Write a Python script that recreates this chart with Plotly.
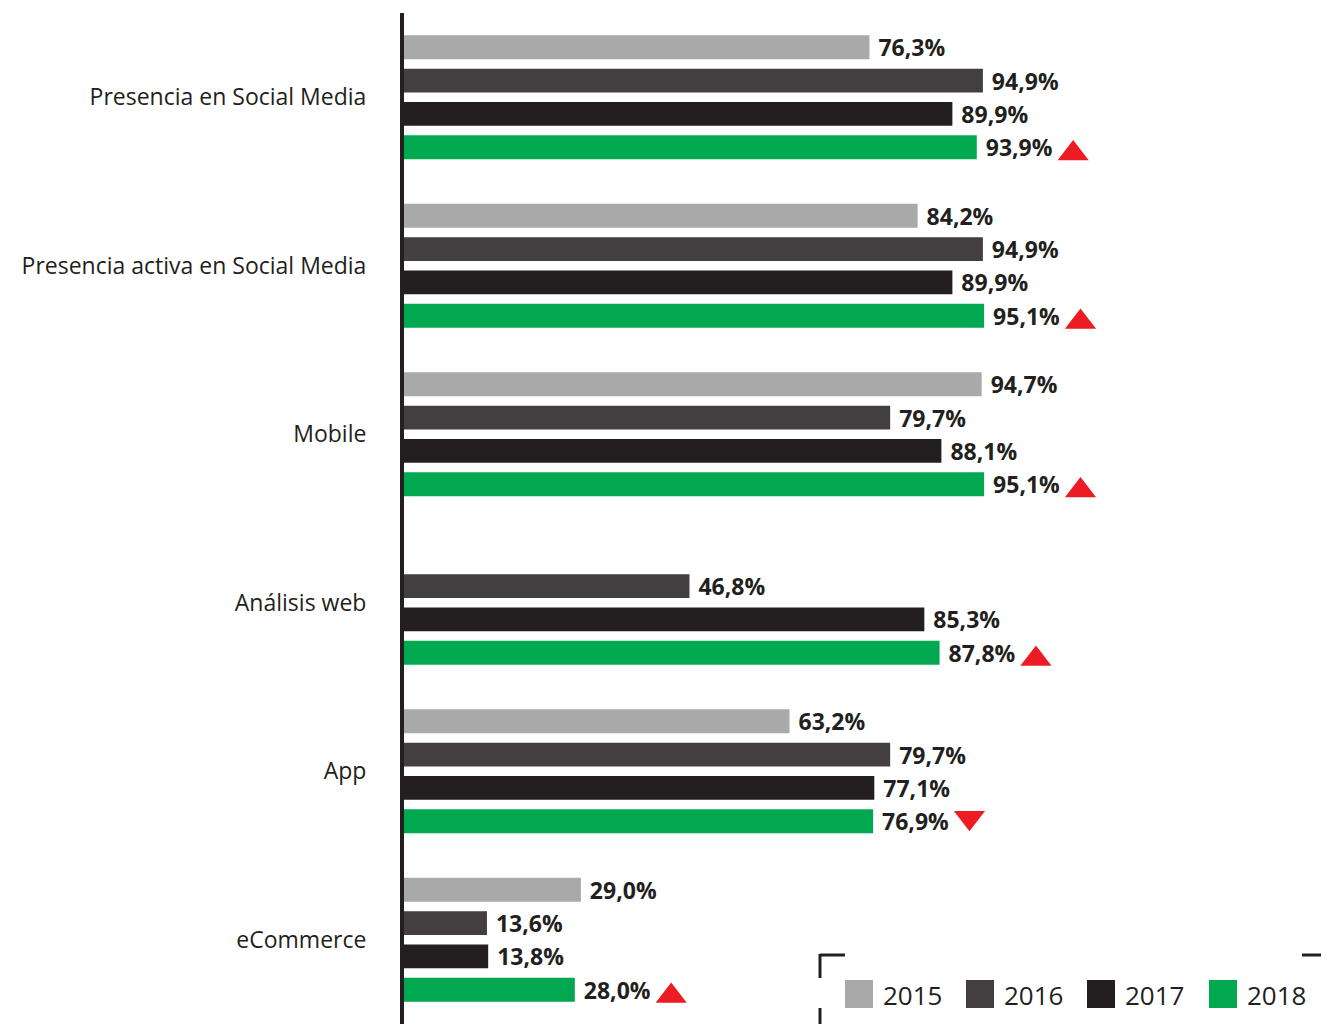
import plotly.graph_objects as go

# ---------------- data ----------------
categories = ["Presencia en Social Media", "Presencia activa en Social Media", "Mobile",
              "Análisis web", "App", "eCommerce"]
years = ["2015", "2016", "2017", "2018"]
v2015 = [76.3, 84.2, 94.7, None, 63.2, 29.0]
v2016 = [94.9, 94.9, 79.7, 46.8, 79.7, 13.6]
v2017 = [89.9, 89.9, 88.1, 85.3, 77.1, 13.8]
v2018 = [93.9, 95.1, 95.1, 87.8, 76.9, 28.0]
trend2018 = ["up", "up", "up", "up", "down", "up"]

# ---------------- style ----------------
colors = ["#a9a9aa", "#433f40", "#231f20", "#00a94f"]
red = "#ed1c24"
ink = "#231f20"
OFF = 8                      # page body margin in the browser
W, H = 1329 - 2 * OFF, 1032 - 2 * OFF
ML, MR, MT, MB = 404 - OFF, 10, 13 - OFF, 0
PW, PH = W - ML - MR, H - MT - MB
XMAX = PW / 6.1
BARGAP, BARGROUPGAP = 0.21, 0.28

pos = list(range(len(categories)))
series = [v2015, v2016, v2017, v2018]

fig = go.Figure()
for name, vals, col in zip(years, series, colors):
    fig.add_trace(go.Bar(
        x=vals, y=pos, orientation="h", name=name, marker_color=col,
        marker_line_width=0,
        texttemplate="\u00a0%{x:.1f}%", textposition="outside",
        textfont=dict(family="Open Sans", size=23, color=ink, weight="bold"),
        constraintext="none", cliponaxis=False, showlegend=False,
        hoverinfo="x+name",
    ))

# trend triangles next to 2018 labels
slot = (1 - BARGAP) / len(years)
off2018 = -(1 - BARGAP) / 2 + slot * 3.5
px_per_unit_y = PH / len(categories)
tri_dx = 15.8
for i, (v, t) in enumerate(zip(v2018, trend2018)):
    if t == "up":
        sym, dy = "triangle-up", 6.4 / px_per_unit_y
    else:
        sym, dy = "triangle-down", -3.4 / px_per_unit_y
    fig.add_trace(go.Scatter(
        x=[v + tri_dx], y=[i + off2018 + dy], mode="markers",
        marker=dict(symbol=sym, size=27, color=red, line_width=0),
        cliponaxis=False, showlegend=False, hoverinfo="skip",
    ))

# ---------------- manual legend ----------------
def pxx(x):
    return (x - OFF - ML) / PW

def pxy(y):
    return (H - MB - (y - OFF)) / PH

shapes = []
annotations = []
sw_x = [845, 966, 1087, 1209]
for name, col, sx in zip(years, colors, sw_x):
    shapes.append(dict(type="rect", xref="paper", yref="paper",
                       x0=pxx(sx), x1=pxx(sx + 28), y0=pxy(1008), y1=pxy(980),
                       fillcolor=col, line_width=0))
    annotations.append(dict(xref="paper", yref="paper", x=pxx(sx + 36), y=pxy(995),
                            xanchor="left", yanchor="middle", text=name, showarrow=False,
                            font=dict(family="Open Sans", size=26, color=ink)))

for (x0, y0, x1, y1) in [(820, 955, 845, 955), (820, 954, 820, 978),
                         (820, 1008, 820, 1034), (1302, 955, 1331, 955)]:
    shapes.append(dict(type="line", xref="paper", yref="paper",
                       x0=pxx(x0), x1=pxx(x1), y0=pxy(y0), y1=pxy(y1),
                       line=dict(color=ink, width=3)))

fig.update_layout(
    width=W, height=H,
    margin=dict(l=ML, r=MR, t=MT, b=MB),
    paper_bgcolor="white", plot_bgcolor="white",
    barmode="group", bargap=BARGAP, bargroupgap=BARGROUPGAP,
    separators=",.",
    shapes=shapes, annotations=annotations,
    showlegend=False,
    font=dict(family="Open Sans", color=ink),
)
fig.update_xaxes(range=[0, XMAX], visible=False, showgrid=False, zeroline=False)
fig.update_yaxes(
    range=[len(categories) - 0.5, -0.5],
    tickvals=pos, ticktext=categories,
    showline=True, linewidth=4, linecolor=ink,
    ticks="", ticklabelstandoff=29,
    tickfont=dict(family="Open Sans", size=23, color=ink),
    showgrid=False, zeroline=False,
)

fig.write_html("out.html")
